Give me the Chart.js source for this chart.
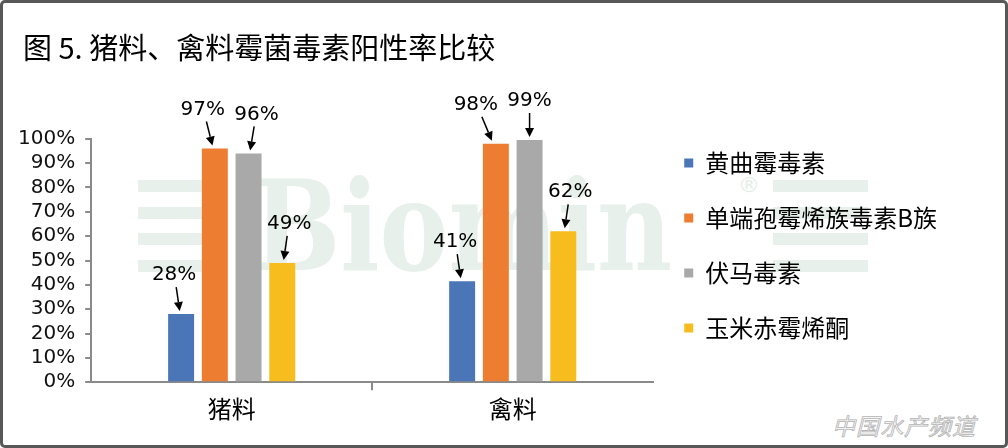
<!DOCTYPE html>
<html>
<head>
<meta charset="utf-8">
<script src="https://cdn.jsdelivr.net/npm/chart.js@4.4.1/dist/chart.umd.min.js"></script>
<style>
  html, body { margin: 0; padding: 0; background: #fff; }
  #wrap { position: relative; width: 1008px; height: 448px; overflow: hidden; background: #fff; }
  #wrap canvas { position: absolute; left: 0; top: 0; }
  .frame { position: absolute; inset: 0; border: 3px solid #585858; border-radius: 5px; pointer-events: none; }
  .wm-bars { position: absolute; top: 180px; }
  .wm-bars div { height: 12px; margin-bottom: 14.5px; background: #e7f0ea; }
  .wm-text { position: absolute; left: 253px; top: 163px; font: bold 126px "DejaVu Serif"; line-height: 1; color: #e7f0ea; transform: scaleX(0.82); transform-origin: 0 0; white-space: nowrap; }
  .wm-reg { position: absolute; left: 738px; top: 172px; font: 22px "DejaVu Sans"; color: #e4ede7; }
  .site { position: absolute; left: 832px; top: 408px; font: italic 23px "Noto Sans CJK SC"; color: #f6f6f6; -webkit-text-stroke: 0.8px #b4b4b4; letter-spacing: 1px; }
</style>
</head>
<body>
<div id="wrap">
  <div class="wm-bars" style="left:138px;width:70px"><div></div><div></div><div></div><div></div></div>
  <div class="wm-text">Biomin</div>
  <div class="wm-reg">®</div>
  <div class="wm-bars" style="left:773px;width:95px"><div></div><div></div><div></div><div></div></div>
  <div class="site">中国水产频道</div>
  <canvas id="chart" width="1008" height="448"></canvas>
  <div class="frame"></div>
</div>
<script>
const categories = ["猪料", "禽料"];
const seriesNames = ["黄曲霉毒素", "单端孢霉烯族毒素B族", "伏马毒素", "玉米赤霉烯酮"];
const seriesColors = ["#4a75b7", "#ed7d31", "#a9a9a9", "#f7bc1d"];

// bar heights as drawn in the picture (%)
const aflatoxin = [28, 41.5];
const trichothecenes = [96, 98];
const fumonisins = [94, 99.5];
const zearalenone = [49, 62];

// printed labels above the bars (%)
const aflatoxinLabels = [28, 41];
const trichothecenesLabels = [97, 98];
const fumonisinsLabels = [96, 99];
const zearalenoneLabels = [49, 62];

// horizontal offset of each label from its bar
const labelShift = [[-7, -7], [-12, -20], [8, 0], [7, 7]];

const CJK = "'Noto Sans CJK SC', 'Noto Sans', sans-serif";
const LATIN = "'DejaVu Sans', sans-serif";

Chart.defaults.font.family = CJK;
Chart.defaults.color = "#000";

function drawArrow(ctx, x0, y0, x1, y1) {
  const ang = Math.atan2(y1 - y0, x1 - x0);
  const head = 9;
  const half = 4.5;
  const bx = x1 - head * Math.cos(ang);
  const by = y1 - head * Math.sin(ang);
  ctx.beginPath();
  ctx.moveTo(x0, y0);
  ctx.lineTo(bx, by);
  ctx.stroke();
  ctx.beginPath();
  ctx.moveTo(x1, y1);
  ctx.lineTo(bx + half * Math.sin(ang), by - half * Math.cos(ang));
  ctx.lineTo(bx - half * Math.sin(ang), by + half * Math.cos(ang));
  ctx.closePath();
  ctx.fill();
}

const arrowLabels = {
  id: "arrowLabels",
  afterDatasetsDraw(chart) {
    const ctx = chart.ctx;
    ctx.save();
    ctx.font = `20px ${LATIN}`;
    ctx.fillStyle = "#000";
    ctx.strokeStyle = "#000";
    ctx.lineWidth = 1.5;
    ctx.textAlign = "center";
    ctx.textBaseline = "middle";
    chart.data.datasets.forEach((ds, i) => {
      chart.getDatasetMeta(i).data.forEach((bar, j) => {
        const tx = bar.x + labelShift[i][j];
        const ty = bar.y - 39;
        ctx.fillText(ds.printed[j] + "%", tx, ty);
        const x0 = tx + (bar.x - tx) * 0.3;
        const x1 = bar.x - (bar.x - tx) * 0.2;
        drawArrow(ctx, x0, ty + 12, x1, bar.y - 3);
      });
    });
    ctx.restore();
  },
};

// title sits a bit right of the axis labels, legend column starts lower
const nudgeLayout = {
  id: "nudgeLayout",
  afterLayout(chart) {
    if (chart.titleBlock) {
      chart.titleBlock.left += 15;
      chart.titleBlock.right += 15;
    }
    if (chart.legend) {
      chart.legend.top += 120;
      chart.legend.bottom += 120;
    }
  },
};

const printed = [aflatoxinLabels, trichothecenesLabels, fumonisinsLabels, zearalenoneLabels];
const values = [aflatoxin, trichothecenes, fumonisins, zearalenone];

new Chart(document.getElementById("chart"), {
  type: "bar",
  data: {
    labels: categories,
    datasets: seriesNames.map((name, i) => ({
      label: name,
      data: values[i],
      printed: printed[i],
      backgroundColor: seriesColors[i],
      borderWidth: 0,
      categoryPercentage: 0.48,
      barPercentage: 0.77,
    })),
  },
  options: {
    responsive: false,
    animation: false,
    layout: { padding: { left: 8, right: 61, top: 0, bottom: 21 } },
    plugins: {
      tooltip: { enabled: false },
      title: {
        display: true,
        text: "图 5. 猪料、禽料霉菌毒素阳性率比较",
        align: "start",
        color: "#000",
        font: { family: CJK, size: 29, weight: "normal" },
        padding: { top: 31, bottom: 73 },
      },
      legend: {
        position: "right",
        align: "start",
        maxWidth: 320,
        labels: {
          boxWidth: 9,
          boxHeight: 9,
          padding: 31,
          color: "#000",
          font: { family: CJK, size: 24 },
        },
      },
    },
    scales: {
      x: {
        grid: {
          drawOnChartArea: false,
          tickLength: 8,
          lineWidth: 2,
          color: (c) => (c.index === 1 ? "#8a8a8a" : "transparent"),
        },
        border: { color: "#8a8a8a", width: 2 },
        ticks: { padding: 4, color: "#000", font: { family: CJK, size: 24 } },
      },
      y: {
        min: 0,
        max: 100,
        grid: { drawOnChartArea: false, tickLength: 6, lineWidth: 2, color: "#8a8a8a" },
        border: { color: "#8a8a8a", width: 2 },
        ticks: {
          stepSize: 10,
          autoSkip: false,
          padding: 10,
          color: "#111",
          font: { family: LATIN, size: 20 },
          callback: (v) => v + "%",
        },
      },
    },
  },
  plugins: [arrowLabels, nudgeLayout],
});
</script>
</body>
</html>
